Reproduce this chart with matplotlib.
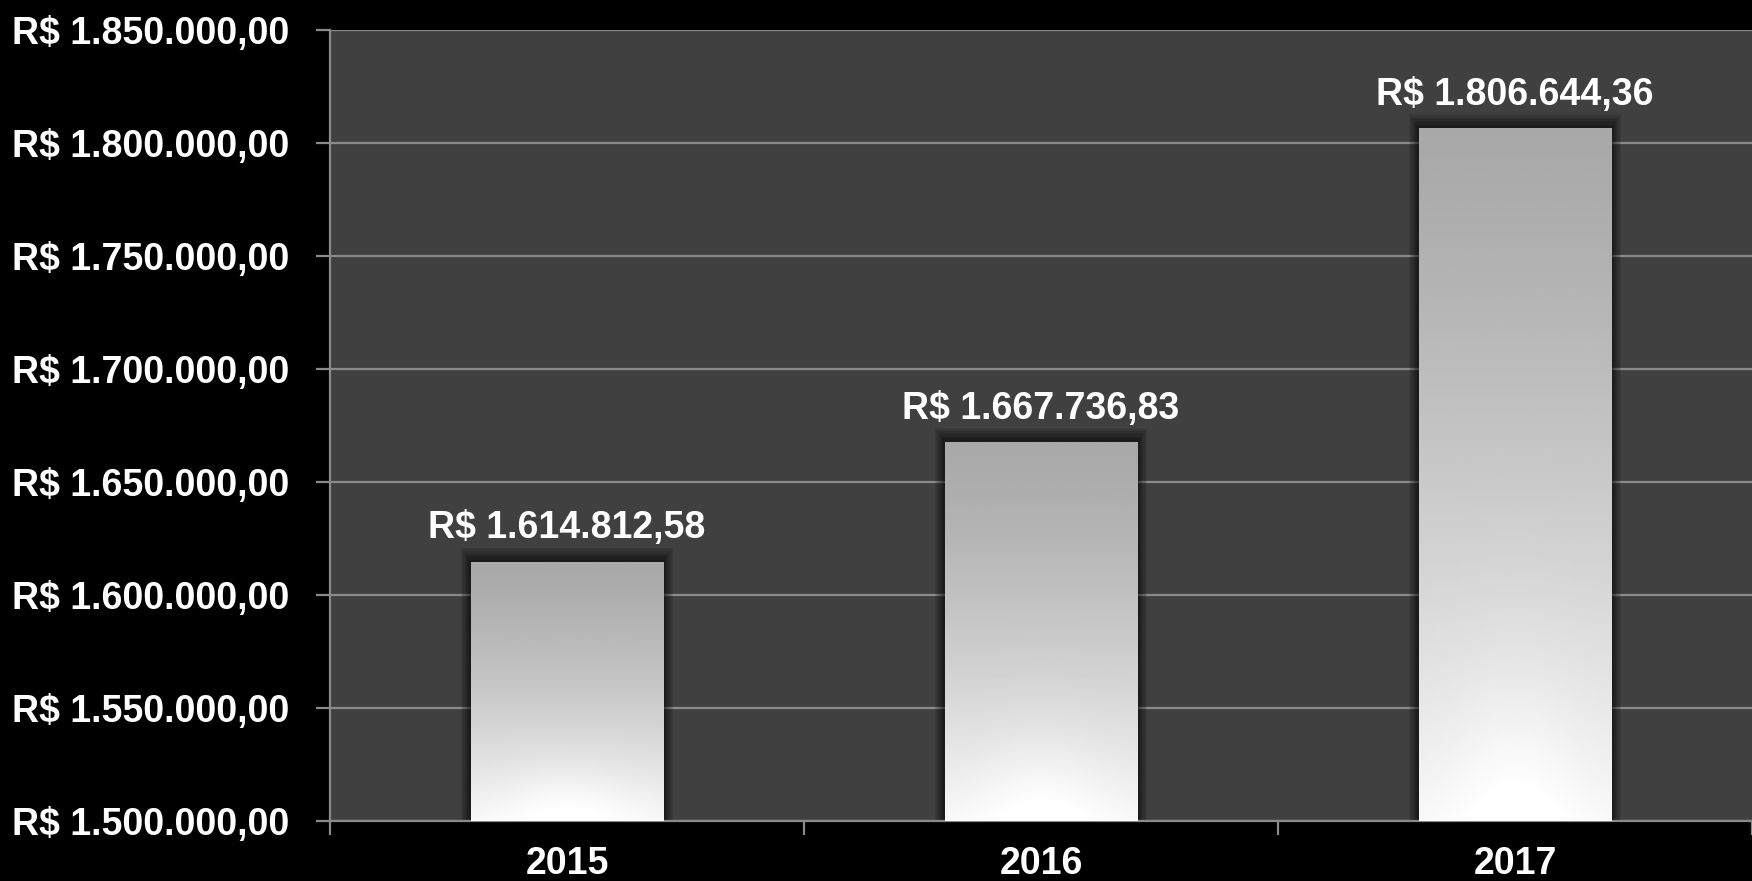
import numpy as np
import matplotlib
matplotlib.use('Agg')
import matplotlib.pyplot as plt
from matplotlib.patches import Rectangle

years = ['2015', '2016', '2017']
values = [1614812.58, 1667736.83, 1806644.36]
y_ticks = [1500000, 1550000, 1600000, 1650000, 1700000, 1750000, 1800000, 1850000]


def brl(v):
    """formato R$ 1.234.567,89"""
    s = f'{v:,.2f}'
    s = s.replace(',', 'X').replace('.', ',').replace('X', '.')
    return 'R$ ' + s


plt.rcParams['font.family'] = ['Liberation Sans', 'DejaVu Sans']
plt.rcParams['font.weight'] = 'bold'

fig = plt.figure(figsize=(17.52, 8.81), dpi=100, facecolor='black')
ax = fig.add_axes([330 / 1752, 1 - 821 / 881, 1422 / 1752, 791 / 881])
ax.set_facecolor('#404040')

ymin, ymax = y_ticks[0], y_ticks[-1]
ax.set_ylim(ymin, ymax)
ax.set_xlim(-0.5, len(years) - 0.5)

ax.set_yticks(y_ticks)
ax.set_yticklabels([brl(t) for t in y_ticks])
ax.yaxis.grid(True, color='#8a8a8a', linewidth=1.6)
ax.set_axisbelow(True)

ax.set_xticks(np.arange(len(years)))
ax.set_xticklabels(years)
ax.set_xticks(np.arange(len(years) + 1) - 0.5, minor=True)

ax.tick_params(axis='y', colors='#8a8a8a', length=10, width=1.6, pad=19,
               labelcolor='white', labelsize=27)
ax.tick_params(axis='x', which='major', length=0, pad=18,
               labelcolor='white', labelsize=27)
ax.tick_params(axis='x', which='minor', colors='#8a8a8a', length=10, width=1.6)

for side in ['top', 'right']:
    ax.spines[side].set_visible(False)
for side in ['left', 'bottom']:
    ax.spines[side].set_color('#8a8a8a')
    ax.spines[side].set_linewidth(1.6)

width = 0.407
span = ymax - ymin

# gradiente das barras (escuro em cima, claro embaixo)
ny, nx = 200, 100
yy, xx = np.mgrid[0:1:ny * 1j, -1:1:nx * 1j]
base = 0.66 + 0.31 * yy ** 1.3
glow = 0.05 * np.exp(-((xx / 0.7) ** 2 + ((1 - yy) / 0.25) ** 2))
grad = np.clip(base + glow, 0, 1)

for i, v in enumerate(values):
    x0 = i - width / 2
    # sombra
    for k in range(1, 9):
        dx = 0.0025 * k
        dy = span * 0.0022 * k
        ax.add_patch(Rectangle((x0 - dx, ymin), width + 2 * dx, v - ymin + dy,
                               facecolor='black', edgecolor='none',
                               alpha=0.09, zorder=2))
    rect = Rectangle((x0, ymin), width, v - ymin, facecolor='none',
                     edgecolor='none', zorder=3)
    ax.add_patch(rect)
    im = ax.imshow(grad, cmap='gray', vmin=0, vmax=1, aspect='auto',
                   extent=(x0, x0 + width, ymin, v), origin='upper',
                   zorder=3, interpolation='bilinear')
    im.set_clip_path(rect)
    ax.text(i, v + span * 0.019, brl(v), ha='center', va='bottom',
            color='white', fontsize=27, fontweight='bold', zorder=4)

ax.set_xlim(-0.5, len(years) - 0.5)
ax.set_ylim(ymin, ymax)

fig.savefig('out.png', dpi=100, facecolor='black')
